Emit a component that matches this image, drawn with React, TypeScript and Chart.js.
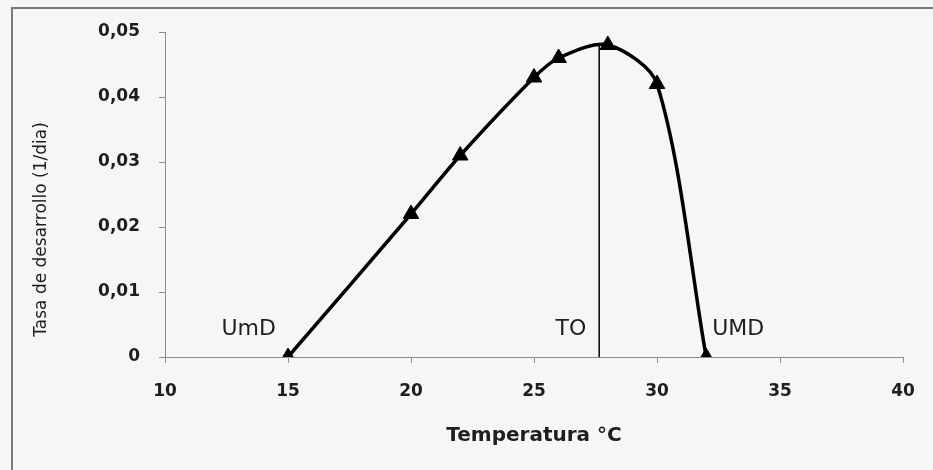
import React, { useEffect, useRef } from "react";
import { Chart, registerables } from "chart.js";

Chart.register(...registerables);

// ---- data ----
const temperatures = [15, 20, 22, 25, 26, 28, 30, 32];
const rates = [0, 0.022, 0.031, 0.043, 0.046, 0.048, 0.042, 0];
const optimumTemp = 27.65;
const optimumLineTop = 0.0482;
const xTicks = [10, 15, 20, 25, 30, 35, 40];
const yTicks = [0, 0.01, 0.02, 0.03, 0.04, 0.05];
const annotationLabels = ["UmD", "TO", "UMD"];
const annotationX = [13.4, 26.5, 33.3];
const annotationY = [0.0043, 0.0043, 0.0043];
const xTitle = "Temperatura °C";
const yTitle = "Tasa de desarrollo (1/dia)";

const FONT = "'DejaVu Sans', sans-serif";
const TEXT = "#1e1e1e";
const AXIS = "#8c8c8c";

const fmtY = (v: number) => (v === 0 ? "0" : v.toFixed(2).replace(".", ","));

const decorPlugin = {
  id: "decor",
  beforeDraw(chart: any) {
    const { ctx, width, height } = chart;
    ctx.save();
    ctx.fillStyle = "#f6f6f4";
    ctx.fillRect(0, 0, width, height);
    ctx.strokeStyle = "#7a7a7a";
    ctx.lineWidth = 2;
    ctx.beginPath();
    ctx.moveTo(12, height);
    ctx.lineTo(12, 8);
    ctx.lineTo(width, 8);
    ctx.stroke();
    ctx.restore();
  },
  afterDatasetsDraw(chart: any) {
    const { ctx, scales, chartArea } = chart;
    ctx.save();
    ctx.fillStyle = TEXT;
    ctx.font = `22px ${FONT}`;
    ctx.textAlign = "center";
    ctx.textBaseline = "middle";
    annotationLabels.forEach((t, i) => {
      ctx.fillText(t, scales.x.getPixelForValue(annotationX[i]), scales.y.getPixelForValue(annotationY[i]));
    });
    // y axis title
    ctx.font = `17px ${FONT}`;
    ctx.translate(42, (chartArea.top + chartArea.bottom) / 2 + 35);
    ctx.rotate(-Math.PI / 2);
    ctx.fillText(yTitle, 0, 0);
    ctx.restore();
  },
};

export default function App() {
  const ref = useRef<HTMLCanvasElement | null>(null);
  useEffect(() => {
    if (!ref.current) return;
    const chart = new Chart(ref.current, {
      type: "scatter",
      data: {
        datasets: [
          {
            label: "Tasa",
            data: temperatures.map((t, i) => ({ x: t, y: rates[i] })),
            showLine: true,
            borderColor: "#000",
            borderWidth: 3.5,
            tension: 0.3,
            pointStyle: "triangle",
            pointRadius: 9,
            pointBackgroundColor: "#000",
            pointBorderColor: "#000",
            pointBorderWidth: 1,
          },
          {
            label: "TO",
            data: [
              { x: optimumTemp, y: 0 },
              { x: optimumTemp, y: optimumLineTop },
            ],
            showLine: true,
            borderColor: "#000",
            borderWidth: 1.5,
            pointRadius: 0,
          },
        ],
      },
      options: {
        animation: false,
        responsive: false,
        layout: { padding: { left: 0, right: 30, top: 32, bottom: 13 } },
        plugins: { legend: { display: false }, tooltip: { enabled: false } },
        scales: {
          x: {
            type: "linear",
            min: 10,
            max: 40,
            afterBuildTicks: (s: any) => {
              s.ticks = xTicks.map((v) => ({ value: v }));
            },
            afterFit: (s: any) => {
              s.height = 100;
            },
            ticks: {
              color: TEXT,
              font: { family: FONT, size: 17, weight: "bold" },
              padding: 18,
              maxRotation: 0,
            },
            grid: { drawOnChartArea: false, drawTicks: true, tickLength: 6, color: AXIS },
            border: { display: true, color: AXIS, width: 1 },
            title: {
              display: true,
              text: xTitle,
              color: TEXT,
              font: { family: FONT, size: 20, weight: "bold" },
              padding: { top: 0, bottom: 9 },
            },
          },
          y: {
            type: "linear",
            min: 0,
            max: 0.05,
            afterBuildTicks: (s: any) => {
              s.ticks = yTicks.map((v) => ({ value: v }));
            },
            afterFit: (s: any) => {
              s.width = 165;
            },
            ticks: {
              color: TEXT,
              font: { family: FONT, size: 17, weight: "bold" },
              padding: 19,
              callback: (v: any) => fmtY(Number(v)),
            },
            grid: { drawOnChartArea: false, drawTicks: true, tickLength: 6, color: AXIS },
            border: { display: true, color: AXIS, width: 1 },
          },
        },
      },
      plugins: [decorPlugin],
    } as any);
    return () => chart.destroy();
  }, []);
  return (
    <div style={{ position: "fixed", left: 0, top: 0, width: 933, height: 470 }}>
      <canvas ref={ref} width={933} height={470} style={{ display: "block" }} />
    </div>
  );
}
